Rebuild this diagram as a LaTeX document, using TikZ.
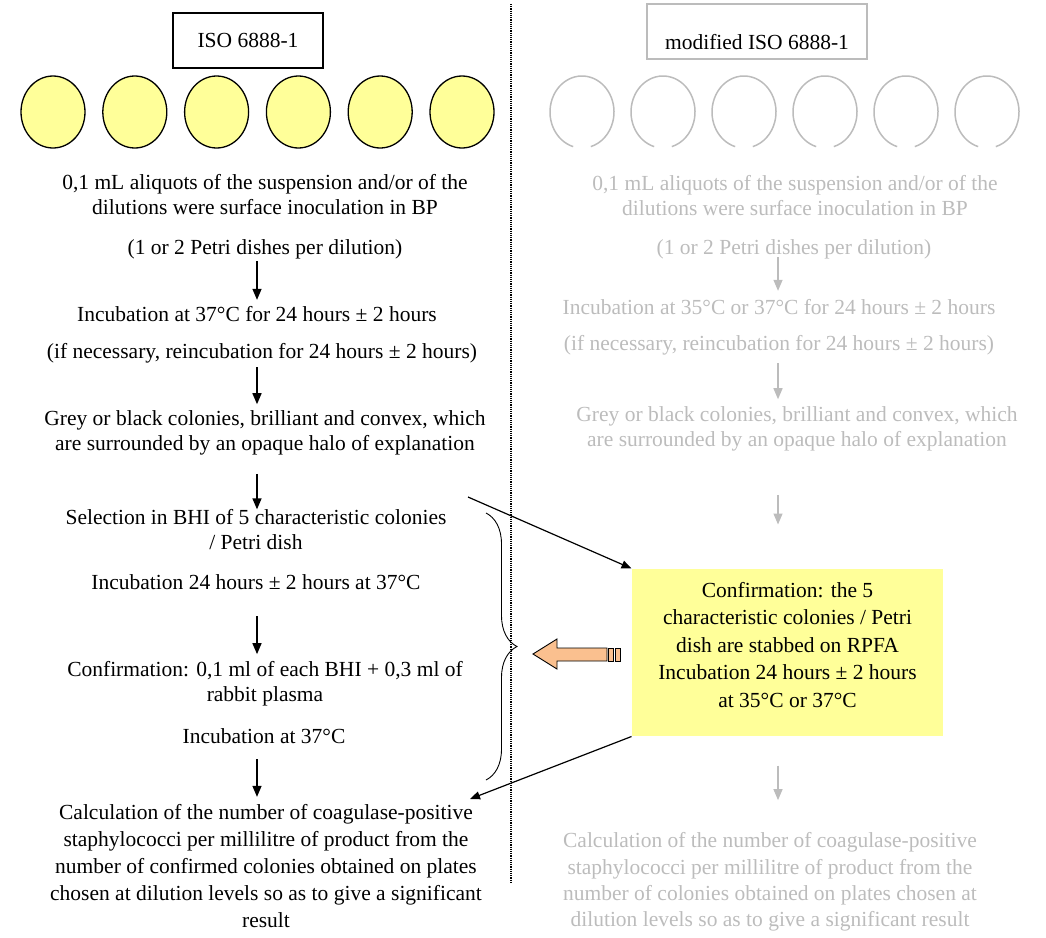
\documentclass[tikz,border=0pt]{standalone}
\usepackage{fontspec}
\setmainfont{Liberation Serif}
\usetikzlibrary{arrows.meta, shapes.geometric, decorations.pathreplacing, calc}

\definecolor{dishyellow}{RGB}{255,255,153}
\definecolor{fadegray}{RGB}{188,188,188}
\definecolor{peach}{RGB}{250,192,143}

\tikzset{
  txt/.style={align=center, inner sep=0pt, font=\fontsize{21.5}{25}\selectfont},
  faded/.style={txt, text=fadegray},
  dish/.style={ellipse, draw, line width=1.3pt, fill=dishyellow, minimum width=64pt, minimum height=72pt, inner sep=0pt},
  stepline/.style={->, line width=1.4pt},
  garrow/.style={->, line width=1.3pt, color=fadegray},
  yellowbox/.style={fill=dishyellow, minimum width=311pt, minimum height=167pt, inner sep=0pt},
}

\begin{document}
\begin{tikzpicture}[x=1pt, y=-1pt, >={Triangle[length=11pt, width=9pt]}, line width=1pt]
  \useasboundingbox (0,0) rectangle (1046,937);

  % headers
  \node[txt, draw, line width=1.5pt, minimum width=150pt, minimum height=55pt] (iso) at (248,40.5) {ISO 6888-1};
  \draw[fadegray, line width=1.2pt] (647,4) rectangle (867,59);
  \node[txt] (mod) at (757,42) {modified ISO 6888-1};

  % dividing line
  \draw[densely dotted, line width=1.2pt] (511,4) -- (511,882);

  % petri dishes
  \foreach \i in {0,...,5}
    \node[dish] (dish\i) at ({53+81.8*\i},112) {};
  \foreach \i in {0,...,5}
    \draw[fadegray, line width=1.5pt] ({582+81*\i},112) ++(106:32 and 36)
      arc[start angle=106, end angle=434, x radius=32, y radius=36];

  % ISO 6888-1
  \node[txt] (aliq) at (265,195) {0,1 mL aliquots of the suspension and/or of the\\dilutions were surface inoculation in BP};
  \node[txt] (petri) at (265,249) {(1 or 2 Petri dishes per dilution)};
  \node[txt] (incub) at (257,314) {Incubation at 37°C for 24 hours ± 2 hours};
  \node[txt] (reinc) at (262,353) {(if necessary, reincubation for 24 hours ± 2 hours)};
  \node[txt] (grey) at (265,433) {Grey or black colonies, brilliant and convex, which\\are surrounded by an opaque halo of explanation};
  \node[txt] (select) at (256,530) {Selection in BHI of 5 characteristic colonies\\/ Petri dish};
  \node[txt] (incbhi) at (256,582) {Incubation 24 hours ± 2 hours at 37°C};
  \node[txt] (plasma) at (265,684) {Confirmation: 0,1 ml of each BHI + 0,3 ml of\\rabbit plasma};
  \node[txt] (incpl) at (264,736) {Incubation at 37°C};
  \node[txt, font=\fontsize{21.5}{27}\selectfont] (calc) at (266,866) {Calculation of the number of coagulase-positive\\staphylococci per millilitre of product from the\\number of confirmed colonies obtained on plates\\chosen at dilution levels so as to give a significant\\result};

  % modified ISO 6888-1
  \node[faded] (raliq) at (795,196) {0,1 mL aliquots of the suspension and/or of the\\dilutions were surface inoculation in BP};
  \node[faded] (rpetri) at (794,249) {(1 or 2 Petri dishes per dilution)};
  \node[faded] (rincub) at (779,307) {Incubation at 35°C or 37°C for 24 hours ± 2 hours};
  \node[faded] (rreinc) at (779,345) {(if necessary, reincubation for 24 hours ± 2 hours)};
  \node[faded] (rgrey) at (797,429) {Grey or black colonies, brilliant and convex, which\\are surrounded by an opaque halo of explanation};
  \node[yellowbox] (conf) at (787.5,652.5) {};
  \node[txt, font=\fontsize{21.5}{27.5}\selectfont] (conftxt) at (787.5,645) {Confirmation: the 5\\characteristic colonies / Petri\\dish are stabbed on RPFA\\Incubation 24 hours ± 2 hours\\at 35°C or 37°C};
  \node[faded, font=\fontsize{21.5}{26.3}\selectfont] (rcalc) at (770,882) {Calculation of the number of coagulase-positive\\staphylococci per millilitre of product from the\\number of colonies obtained on plates chosen at\\dilution levels so as to give a significant result};

  \coordinate (lx) at (257,0);
  \coordinate (rx) at (778,0);
  \coordinate (selout) at (468,497);
  \coordinate (calcin) at (470,799);

  % left steps
  \draw[stepline, shorten <=2pt, shorten >=6pt] (petri.south -| lx) -- (incub.north -| lx);
  \draw[stepline, shorten <=4pt, shorten >=6pt] (reinc.south -| lx) -- (grey.north -| lx);
  \draw[stepline, shorten <=18pt] (grey.south -| lx) -- (select.north -| lx);
  \draw[stepline, shorten <=26pt, shorten >=7pt] (incbhi.south -| lx) -- (plasma.north -| lx);
  \draw[stepline, shorten <=15pt, shorten >=7pt] (incpl.south -| lx) -- (calc.north -| lx);

  % right steps
  \draw[garrow, shorten <=-2pt, shorten >=8pt] (rpetri.south -| rx) -- (rincub.north -| rx);
  \draw[garrow, shorten <=8pt, shorten >=7pt] (rreinc.south -| rx) -- (rgrey.north -| rx);
  \draw[garrow, shorten <=43pt, shorten >=44pt] (rgrey.south -| rx) -- (conf.north -| rx);
  \draw[garrow, shorten <=29pt, shorten >=32pt] (conf.south -| rx) -- (rcalc.north -| rx);

  % links to the stab test
  \draw[->, >={Triangle[length=10pt, width=8pt]}, line width=1.2pt] (selout) -- (conf.north west);
  \draw[->, >={Triangle[length=10pt, width=8pt]}, line width=1.2pt] (conf.south west) -- (calcin);

  % brace and block arrow
  \draw[decorate, decoration={brace, amplitude=31pt}, line width=0.9pt] (486,513) -- (486,780);
  \draw[fill=peach, line width=0.9pt] (533,654) -- (557,639) -- (557,648) -- (607,648)
    -- (607,661) -- (557,661) -- (557,669) -- cycle;
  \draw[fill=peach, line width=0.9pt] (608.5,648) rectangle (613.5,661);
  \draw[fill=peach, line width=0.9pt] (615.5,648) rectangle (620.5,661);
\end{tikzpicture}
\end{document}
